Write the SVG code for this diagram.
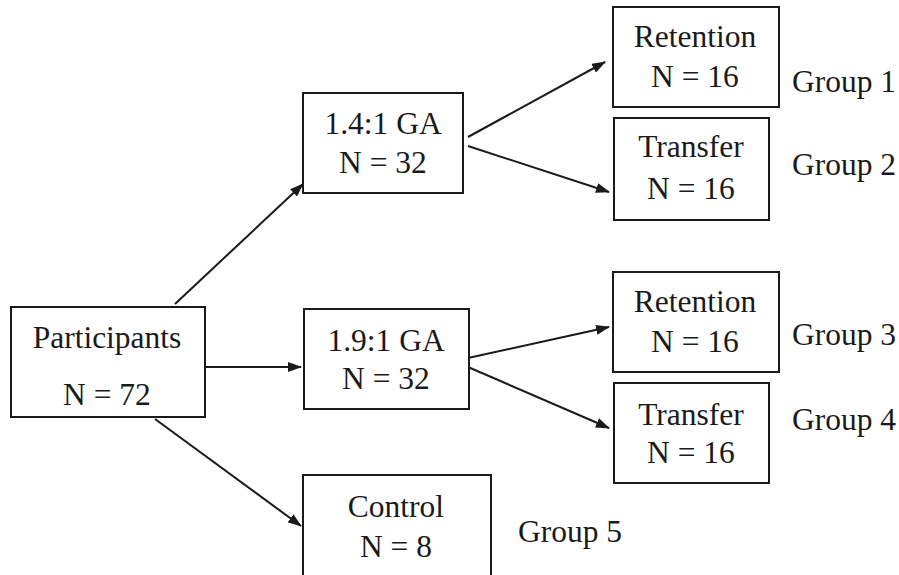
<svg xmlns="http://www.w3.org/2000/svg" width="899" height="575" viewBox="0 0 899 575">
<style>
rect.box{fill:#fff;stroke:#1a1a1a;stroke-width:2}
text{font-family:"Liberation Serif","Times New Roman",serif;font-size:31.5px;fill:#1a1a1a}
.c{text-anchor:middle}
line.arr{stroke:#1a1a1a;stroke-width:2;marker-end:url(#ah)}
</style>
<defs>
<marker id="ah" viewBox="0 0 14 10" refX="13" refY="5" markerWidth="14" markerHeight="10" markerUnits="userSpaceOnUse" orient="auto">
<path d="M0,0 L14,5 L0,10 Z" fill="#1a1a1a"/>
</marker>
</defs>
<rect width="899" height="575" fill="#fff"/>
<g id="connectors">
<line class="arr" x1="175" y1="304" x2="303" y2="184"/>
<line class="arr" x1="205" y1="367" x2="301" y2="367"/>
<line class="arr" x1="155" y1="419" x2="301" y2="526"/>
<line class="arr" x1="468" y1="137" x2="605" y2="62"/>
<line class="arr" x1="468" y1="146" x2="609" y2="192"/>
<line class="arr" x1="468" y1="358" x2="609" y2="327"/>
<line class="arr" x1="468" y1="367" x2="609" y2="428"/>
</g>
<g id="participants">
<rect class="box" x="11" y="307" width="194" height="110"/>
<text class="c" x="107" y="348">Participants</text>
<text class="c" x="107" y="405">N = 72</text>
</g>
<g id="ga14">
<rect class="box" x="303" y="93" width="160" height="100"/>
<text class="c" x="383" y="134">1.4:1 GA</text>
<text class="c" x="383" y="173">N = 32</text>
</g>
<g id="ga19">
<rect class="box" x="304" y="309" width="165" height="100"/>
<text class="c" x="386" y="351">1.9:1 GA</text>
<text class="c" x="386" y="389">N = 32</text>
</g>
<g id="control">
<rect class="box" x="303" y="475" width="188" height="110"/>
<text class="c" x="396" y="517">Control</text>
<text class="c" x="396" y="557">N = 8</text>
</g>
<g id="retention1">
<rect class="box" x="613" y="7" width="166" height="100"/>
<text class="c" x="695" y="47">Retention</text>
<text class="c" x="695" y="87">N = 16</text>
</g>
<g id="transfer2">
<rect class="box" x="614" y="118" width="155" height="102"/>
<text class="c" x="691" y="157">Transfer</text>
<text class="c" x="691" y="199">N = 16</text>
</g>
<g id="retention3">
<rect class="box" x="613" y="272" width="166" height="100"/>
<text class="c" x="695" y="312">Retention</text>
<text class="c" x="695" y="352">N = 16</text>
</g>
<g id="transfer4">
<rect class="box" x="614" y="383" width="155" height="100"/>
<text class="c" x="691" y="425">Transfer</text>
<text class="c" x="691" y="463">N = 16</text>
</g>
<g id="labels">
<text x="792" y="92">Group 1</text>
<text x="792" y="175">Group 2</text>
<text x="792" y="345">Group 3</text>
<text x="792" y="430">Group 4</text>
<text x="518" y="542">Group 5</text>
</g>
</svg>
